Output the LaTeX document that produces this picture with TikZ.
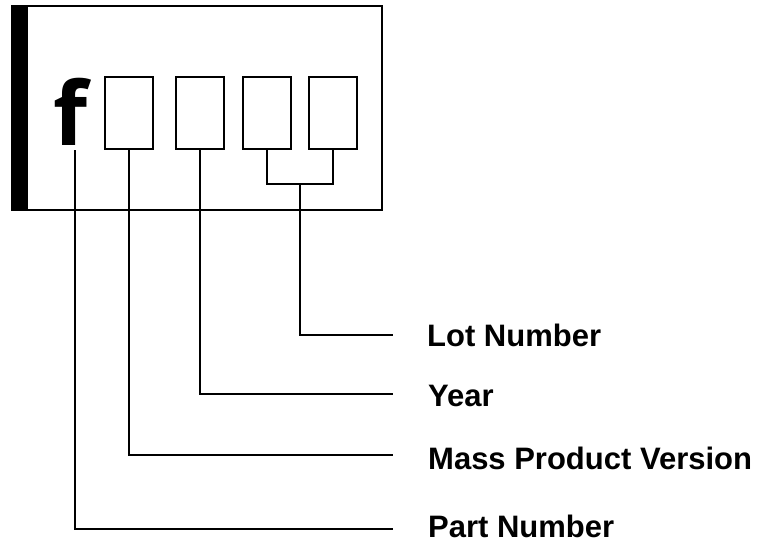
\documentclass[tikz,border=0pt]{standalone}
\usepackage{fontspec}
\setmainfont{Liberation Sans}
\newfontfamily\markfont{Open Sans}
\usetikzlibrary{positioning}

\begin{document}
\begin{tikzpicture}[x=1pt, y=-1pt,
  digit/.style={draw, line width=2pt, minimum width=48pt, minimum height=72pt, inner sep=0pt},
  lbl/.style={anchor=base west, inner sep=0pt, font=\fontsize{31}{36}\selectfont\bfseries},
  lead/.style={line width=2pt}]
\useasboundingbox (0,0) rectangle (764,542);
% marking plate
\draw[line width=2pt] (20,6) rectangle (382,210);
\fill (11,5) rectangle (28,211);
\node[anchor=base, inner sep=0pt, font=\markfont\fontsize{88}{88}\selectfont\bfseries] (f) at (71,145) {f};
\node[digit] (b1) at (129,113) {};
\node[digit] (b2) at (200,113) {};
\node[digit] (b3) at (267,113) {};
\node[digit] (b4) at (333,113) {};
% labels
\node[lbl] (lot)  at (427,346) {Lot Number};
\node[lbl] (year) at (428,406) {Year};
\node[lbl] (mass) at (428,469) {Mass Product Version};
\node[lbl] (part) at (428,537) {Part Number};
\coordinate (fpin) at (75,150);
\coordinate (brk) at (300,184);
\coordinate (lotend) at (393,335);
\coordinate (yearend) at (393,394);
\coordinate (massend) at (393,455);
\coordinate (partend) at (393,529);
% leaders
\draw[lead] (b3.south) |- (brk) -| (b4.south);
\draw[lead] (brk) |- (lotend);
\draw[lead] (b2.south) |- (yearend);
\draw[lead] (b1.south) |- (massend);
\draw[lead] (fpin) |- (partend);
\end{tikzpicture}
\end{document}
